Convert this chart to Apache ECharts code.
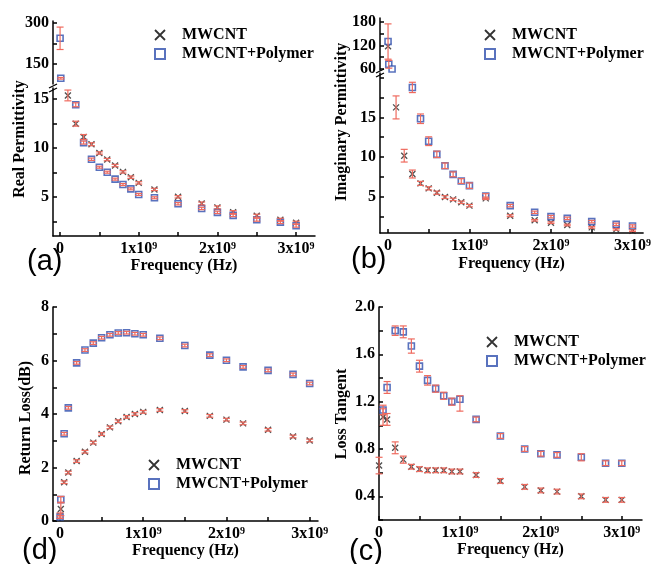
<!DOCTYPE html>
<html>
<head>
<meta charset="utf-8">
<script src="https://cdn.jsdelivr.net/npm/echarts@6/dist/echarts.min.js"></script>
<style>
html, body { margin: 0; padding: 0; background: #fff; }
#chart { width: 654px; height: 564px; }
</style>
</head>
<body>
<div id="chart"></div>
<script>
// measurement frequencies, GHz (axes show Hz)
const freqGHz = [0.001, 0.01, 0.05, 0.1, 0.2, 0.3, 0.4, 0.5, 0.6, 0.7, 0.8, 0.9, 1.0, 1.2, 1.5, 1.8, 2.0, 2.2, 2.5, 2.8, 3.0];

// (a) real permittivity
const realMW      = [null, null, null, 15.34, 12.46, 11.10, 10.36, 9.47, 8.80, 8.19, 7.54, 7.00, 6.42, 5.75, 5.00, 4.32, 3.92, 3.44, 3.07, 2.66, 2.36];
const realMWErr   = [0, 0, 0, 0.55, 0.25, 0.25, 0.15, 0.12, 0.12, 0.12, 0.12, 0.12, 0.12, 0.12, 0.12, 0.15, 0.15, 0.15, 0.15, 0.15, 0.15];
const realPoly    = [244, 97.7, null, null, 14.39, 10.53, 8.83, 8.02, 7.51, 6.80, 6.25, 5.81, 5.24, 4.90, 4.29, 3.81, 3.41, 3.10, 2.66, 2.42, 2.05];
const realPolyErr = [41, 3, 0, 0, 0.2, 0.15, 0.12, 0.1, 0.1, 0.1, 0.1, 0.1, 0.1, 0.1, 0.12, 0.12, 0.12, 0.12, 0.15, 0.15, 0.15];

// (b) imaginary permittivity
const imagMW      = [118, null, null, 16.26, 10.17, 7.86, 6.68, 6.05, 5.50, 4.95, 4.66, 4.29, 3.87, 4.79, 2.60, 2.02, 1.72, 1.43, 1.13, 0.88, 0.71];
const imagMWErr   = [0, 0, 0, 1.45, 0.8, 0.5, 0.25, 0.2, 0.2, 0.18, 0.15, 0.15, 0.15, 0.15, 0.12, 0.1, 0.1, 0.1, 0.1, 0.1, 0.1];
const imagPoly    = [130, 72, 60, null, null, 18.78, 14.83, 12.00, 10.34, 8.90, 7.82, 6.97, 6.39, 5.08, 3.87, 3.03, 2.48, 2.27, 1.85, 1.51, 1.30];
const imagPolyErr = [45, 10, 0, 0, 0, 0.65, 0.6, 0.55, 0.4, 0.35, 0.3, 0.3, 0.35, 0.3, 0.15, 0.15, 0.15, 0.15, 0.15, 0.15, 0.15];

// (d) return loss
const rlMW        = [0.20, 0.45, 1.45, 1.81, 2.24, 2.59, 2.93, 3.25, 3.50, 3.73, 3.89, 4.00, 4.08, 4.15, 4.11, 3.93, 3.79, 3.65, 3.41, 3.16, 3.01];
const rlMWErr     = [0.1, 0.25, 0.05, 0.05, 0.05, 0.05, 0.05, 0.05, 0.05, 0.05, 0.05, 0.05, 0.05, 0.05, 0.05, 0.05, 0.05, 0.05, 0.05, 0.05, 0.05];
const rlPoly      = [0.15, 0.80, 3.26, 4.23, 5.91, 6.39, 6.65, 6.85, 6.96, 7.03, 7.04, 7.00, 6.96, 6.83, 6.56, 6.20, 6.01, 5.76, 5.63, 5.48, 5.14];
const rlPolyErr   = [0.05, 0.12, 0.05, 0.05, 0.05, 0.05, 0.05, 0.05, 0.05, 0.05, 0.05, 0.05, 0.05, 0.05, 0.05, 0.05, 0.05, 0.05, 0.05, 0.05, 0.05];

// (c) loss tangent
const tanMW       = [0.66, null, 1.07, 1.05, 0.81, 0.71, 0.65, 0.63, 0.62, 0.62, 0.62, 0.61, 0.61, 0.58, 0.53, 0.48, 0.45, 0.44, 0.40, 0.37, 0.37];
const tanMWErr    = [0.07, 0, 0.07, 0.05, 0.05, 0.03, 0.02, 0.02, 0.02, 0.02, 0.02, 0.02, 0.02, 0.02, 0.02, 0.02, 0.02, 0.02, 0.02, 0.02, 0.02];
const tanPoly     = [null, null, 1.13, 1.32, 1.80, 1.79, 1.67, 1.50, 1.38, 1.31, 1.25, 1.20, 1.22, 1.05, 0.91, 0.80, 0.76, 0.75, 0.73, 0.68, 0.68];
const tanPolyErr  = [0, 0, 0.04, 0.05, 0.04, 0.05, 0.06, 0.05, 0.04, 0.03, 0.03, 0.03, [0.10, 0.03], 0.02, 0.02, 0.02, 0.02, 0.02, 0.03, 0.02, 0.02];

// axis ticks / labels
const xTicks   = [0, 0.5e9, 1e9, 1.5e9, 2e9, 2.5e9, 3e9];
const xLabels  = [0, 1e9, 2e9, 3e9];
const yTicksA  = [[150, 225, 300], [2.5, 5, 7.5, 10, 12.5, 15]];
const yLabelsA = [[150, 300], [5, 10, 15]];
const yTicksB  = [[60, 90, 120, 150, 180], [2.5, 5, 7.5, 10, 12.5, 15, 17.5, 20]];
const yLabelsB = [[60, 120, 180], [5, 10, 15]];
const yTicksD  = [0, 1, 2, 3, 4, 5, 6, 7, 8];
const yLabelsD = [0, 2, 4, 6, 8];
const yTicksC  = [0.2, 0.4, 0.6, 0.8, 1.0, 1.2, 1.4, 1.6, 1.8, 2.0];
const yLabelsC = [0.4, 0.8, 1.2, 1.6, 2.0];

const FONT = '"Liberation Serif", "Times New Roman", serif';
const ERR = '#ef6a5e';
const BLUE = '#2f4fae';
const X_PATH = 'path://M0,0L10,10M10,0L0,10';

const chart = echarts.init(document.getElementById('chart'), null, { renderer: 'canvas' });

// grids: (a) upper/lower, (b) upper/lower, (d), (c)
const grids = [
    { left: 53, top: 21, width: 262, height: 63 },
    { left: 53, top: 88, width: 262, height: 148 },
    { left: 380, top: 18, width: 265, height: 52 },
    { left: 380, top: 73, width: 265, height: 160 },
    { left: 53, top: 307, width: 265, height: 214 },
    { left: 379, top: 307, width: 263, height: 213 }
];
const xRanges = [[-0.089e9, 3.24e9], [-0.089e9, 3.24e9], [-0.097e9, 3.13e9], [-0.097e9, 3.13e9], [-0.084e9, 3.1e9], [0, 3.25e9]];
const yRanges = [[76.8, 307.3], [1.0, 16.1], [57.4, 190], [0.42, 20.6], [0, 8], [0.2, 2.0]];
const yTicks  = [yTicksA[0], yTicksA[1], yTicksB[0], yTicksB[1], yTicksD, yTicksC];
const yLabels = [yLabelsA[0], yLabelsA[1], yLabelsB[0], yLabelsB[1], yLabelsD, yLabelsC];
const nameGaps = [0, 21, 0, 23, 21, 20];

const labelFont = { color: '#000', fontFamily: FONT, fontWeight: 'bold', fontSize: 16 };

function fmtHz(v) {
    if (v === 0) return '0';
    return Math.round(v / 1e9) + 'x10{sup|9}';
}

const xAxes = grids.map((g, i) => {
    const bottom = i !== 0 && i !== 2;
    return {
        type: 'value', gridIndex: i, min: xRanges[i][0], max: xRanges[i][1], show: bottom,
        axisLine: { onZero: false, lineStyle: { color: '#000', width: 1.5 } },
        axisTick: { inside: true, length: 4, customValues: xTicks, lineStyle: { color: '#000', width: 1.5 } },
        axisLabel: Object.assign({
            customValues: xLabels, formatter: fmtHz, margin: 5,
            rich: { sup: { fontFamily: FONT, fontWeight: 'bold', fontSize: 10, verticalAlign: 'top', color: '#000' } }
        }, labelFont),
        splitLine: { show: false },
        name: bottom ? 'Frequency (Hz)' : '',
        nameLocation: 'middle', nameGap: nameGaps[i],
        nameTextStyle: labelFont
    };
});

const yAxes = grids.map((g, i) => ({
    type: 'value', gridIndex: i, min: yRanges[i][0], max: yRanges[i][1],
    axisLine: { onZero: false, lineStyle: { color: '#000', width: 1.5 } },
    axisTick: { inside: true, length: 4, customValues: yTicks[i], lineStyle: { color: '#000', width: 1.5 } },
    axisLabel: Object.assign({
        customValues: yLabels[i], margin: 4,
        formatter: v => (i === 5 ? v.toFixed(1) : String(v))
    }, labelFont),
    splitLine: { show: false }
}));

function renderErr(params, api) {
    const x = api.value(0);
    const p1 = api.coord([x, api.value(1)]);
    const p2 = api.coord([x, api.value(2)]);
    const w = 3.5;
    const style = { stroke: ERR, lineWidth: 1.2 };
    return {
        type: 'group',
        children: [
            { type: 'line', shape: { x1: p1[0], y1: p1[1], x2: p2[0], y2: p2[1] }, style },
            { type: 'line', shape: { x1: p1[0] - w, y1: p1[1], x2: p1[0] + w, y2: p1[1] }, style },
            { type: 'line', shape: { x1: p2[0] - w, y1: p2[1], x2: p2[0] + w, y2: p2[1] }, style }
        ]
    };
}

function split(vals, errs, test) {
    const pts = [], bars = [];
    vals.forEach((v, i) => {
        if (v == null || !test(v)) return;
        const x = freqGHz[i] * 1e9;
        pts.push([x, v]);
        const e = errs[i];
        const lo = Array.isArray(e) ? e[0] : e;
        const hi = Array.isArray(e) ? e[1] : e;
        if (lo > 0 || hi > 0) bars.push([x, v - lo, v + hi]);
    });
    return { pts, bars };
}

const series = [];
function addPanel(g, mw, mwErr, poly, polyErr, test) {
    const a = split(mw, mwErr, test);
    const b = split(poly, polyErr, test);
    series.push({
        type: 'scatter', name: 'MWCNT', xAxisIndex: g, yAxisIndex: g,
        symbol: X_PATH, symbolSize: 6, z: 2,
        itemStyle: { color: 'transparent', borderColor: '#222', borderWidth: 1.3 },
        data: a.pts
    });
    series.push({
        type: 'scatter', name: 'MWCNT+Polymer', xAxisIndex: g, yAxisIndex: g,
        symbol: 'rect', symbolSize: 6, z: 2,
        itemStyle: { color: '#fff', borderColor: BLUE, borderWidth: 1.6 },
        data: b.pts
    });
    series.push({
        type: 'custom', name: 'error', xAxisIndex: g, yAxisIndex: g, z: 3,
        renderItem: renderErr, encode: { x: 0, y: [1, 2] },
        data: a.bars.concat(b.bars)
    });
}

addPanel(0, realMW, realMWErr, realPoly, realPolyErr, v => v > 50);
addPanel(1, realMW, realMWErr, realPoly, realPolyErr, v => v <= 50);
addPanel(2, imagMW, imagMWErr, imagPoly, imagPolyErr, v => v > 40);
addPanel(3, imagMW, imagMWErr, imagPoly, imagPolyErr, v => v <= 40);
addPanel(4, rlMW, rlMWErr, rlPoly, rlPolyErr, v => true);
addPanel(5, tanMW, tanMWErr, tanPoly, tanPolyErr, v => true);

function legend(left, top) {
    return {
        left, top, orient: 'vertical', itemGap: 3, itemWidth: 10, itemHeight: 10,
        selectedMode: false,
        textStyle: Object.assign({ padding: [0, 0, 0, 12] }, labelFont),
        data: [
            { name: 'MWCNT', icon: X_PATH, itemStyle: { color: 'transparent', borderColor: '#000', borderWidth: 1.8 } },
            { name: 'MWCNT+Polymer', icon: 'rect', itemStyle: { color: '#fff', borderColor: BLUE, borderWidth: 2 } }
        ]
    };
}

function yName(x, y, text) {
    return {
        type: 'text', x, y, rotation: Math.PI / 2,
        style: { text, align: 'center', verticalAlign: 'middle', fill: '#000', fontFamily: FONT, fontWeight: 'bold', fontSize: 16 }
    };
}
function panelTag(x, y, text) {
    return {
        type: 'text', x, y,
        style: { text, fill: '#000', fontFamily: '"Liberation Sans", Arial, sans-serif', fontSize: 29 }
    };
}
function breakMark(x, y) {
    const s = { stroke: '#000', lineWidth: 1.3 };
    return [
        { type: 'line', shape: { x1: x - 4, y1: y, x2: x + 4, y2: y - 4 }, style: s },
        { type: 'line', shape: { x1: x - 4, y1: y + 4, x2: x + 4, y2: y }, style: s }
    ];
}

chart.setOption({
    backgroundColor: '#fff',
    animation: false,
    grid: grids,
    xAxis: xAxes,
    yAxis: yAxes,
    legend: [legend(149, 22), legend(479, 22), legend(143, 452), legend(481, 329)],
    series,
    graphic: [
        yName(20, 139, 'Real Permittivity'),
        yName(342, 122, 'Imaginary Permittivity'),
        yName(26, 418, 'Return Loss(dB)'),
        yName(342, 414, 'Loss Tangent'),
        panelTag(27, 247, '(a)'),
        panelTag(351, 245, '(b)'),
        panelTag(22, 536, '(d)'),
        panelTag(349, 537, '(c)')
    ].concat(breakMark(53, 88), breakMark(380, 73))
});
</script>
</body>
</html>
